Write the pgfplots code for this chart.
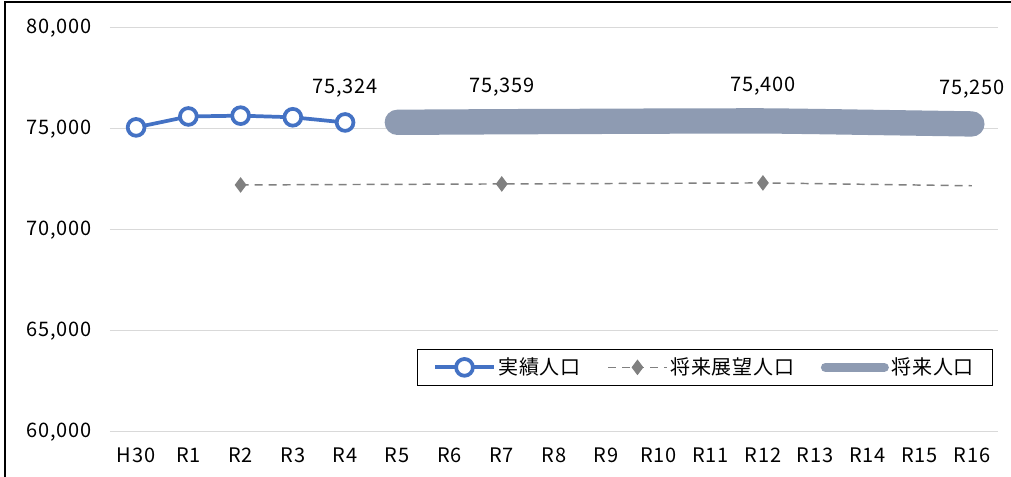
\documentclass[border=0pt]{standalone}
\usepackage{fontspec}
\setmainfont{Noto Sans CJK JP}[LetterSpace=4]
\usepackage{pgfplots}
\pgfplotsset{compat=1.18}
\definecolor{blueA}{RGB}{68,114,196}
\definecolor{greyA}{RGB}{128,128,128}
\definecolor{thickA}{RGB}{142,155,178}
\definecolor{gridA}{RGB}{217,217,217}
\begin{document}
\fontsize{15}{17}\selectfont
\begin{tikzpicture}
\useasboundingbox (-82.5pt,-33.75pt) rectangle (675.75pt,324pt);
\draw[line width=1.1pt] (-78.75pt,-40pt) -- (-78.75pt,322.5pt) -- (680pt,322.5pt);
\begin{axis}[
  at={(0,0)}, anchor=south west,
  scale only axis, width=666pt, height=303pt,
  xmin=-0.5, xmax=16.5, ymin=60000, ymax=80000,
  ytick={60000,65000,70000,75000,80000},
  scaled y ticks=false,
  yticklabel={\pgfmathprintnumber[fixed,precision=0,1000 sep={,},assume math mode=true]{\tick}},
  xtick={0,...,16},
  xticklabels={H30,R1,R2,R3,R4,R5,R6,R7,R8,R9,R10,R11,R12,R13,R14,R15,R16},
  ymajorgrids, grid style={draw=gridA, line width=0.75pt},
  axis line style={draw=none}, major tick style={draw=none},
  yticklabel style={inner sep=0pt, xshift=-13.5pt, font=\fontsize{15}{17}\selectfont},
  xticklabel style={inner sep=0pt, anchor=north, yshift=-12pt, font=\fontsize{15}{17}\selectfont},
  clip=false,
  legend columns=3,
  legend style={at={(0.670,0.16)}, anchor=center, draw=black, line width=1.1pt,
    inner xsep=12pt, inner ysep=4pt, font=\fontsize{15}{17}\selectfont,
    /tikz/every even column/.append style={column sep=18pt}},
  legend image code/.code={\draw[#1] (0pt,0pt) -- (44pt,0pt) plot coordinates {(22pt,0pt)};},
]
% 将来人口 (thick)
\addplot[thickA, line width=19pt, line cap=round, line join=round, smooth, forget plot] coordinates {
 (5,75330) (6,75345) (7,75359) (8,75370) (9,75380) (10,75390) (11,75396) (12,75400) (13,75370) (14,75330) (15,75290) (16,75250)};
% 実績人口
\addplot[blueA, line width=2.8pt, mark=*, mark size=6.3pt, mark options={fill=white, draw=blueA, line width=2.8pt}] coordinates {
 (0,75080) (1,75620) (2,75660) (3,75580) (4,75324)};
\addlegendentry{実績人口}
% 将来展望人口
\addplot[greyA, line width=1.1pt, dashed, dash pattern=on 6pt off 4.5pt, mark=diamond*, mark size=5pt, mark options={solid, fill=greyA, draw=greyA}, mark indices={1,2,3}] coordinates {
 (2,72230) (7,72280) (12,72330) (16,72190)};
\addlegendentry{将来展望人口}
\addlegendimage{thickA, line width=7pt, line cap=round}
\addlegendentry{将来人口}
% data labels
\addplot[draw=none, nodes near coords, point meta=explicit symbolic,
  every node near coord/.style={anchor=south, yshift=14pt, font=\fontsize{15}{17}\selectfont}] table[meta=lab] {
x y lab
4 75324 75{,}324
7 75359 75{,}359
12 75400 75{,}400
16 75250 75{,}250
};
\end{axis}
\end{tikzpicture}
\end{document}
